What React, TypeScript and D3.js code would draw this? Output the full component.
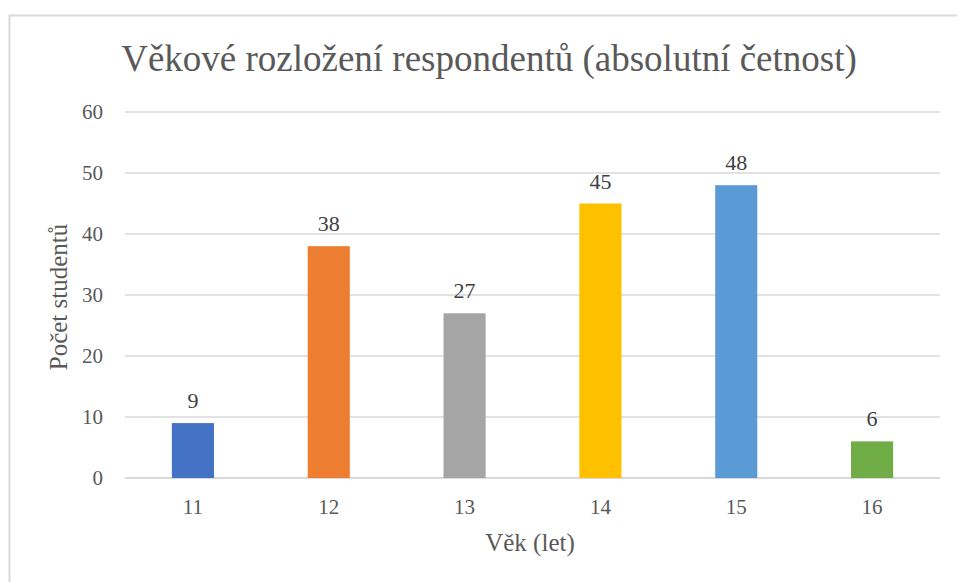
import React from "react";
import * as d3 from "d3";

const categories = ["11", "12", "13", "14", "15", "16"];
const values = [9, 38, 27, 45, 48, 6];
const colors = ["#4472C4", "#ED7D31", "#A5A5A5", "#FFC000", "#5B9BD5", "#70AD47"];
const yTicks = [0, 10, 20, 30, 40, 50, 60];
const title = "Věkové rozložení respondentů (absolutní četnost)";
const xTitle = "Věk (let)";
const yTitle = "Počet studentů";

export default function App() {
  const W = 957, H = 582;
  const left = 125, right = 940, top = 112, bottom = 478;
  const x = d3.scaleBand<string>().domain(categories).range([left, right]).paddingInner(0.69).paddingOuter(0.345);
  const y = d3.scaleLinear().domain([0, 60]).range([bottom, top]);
  const font = "Liberation Serif, Tinos, DejaVu Serif, serif";
  const textColor = "#595959";
  return (
    <svg width={W} height={H} style={{ position: "absolute", left: 0, top: 0, background: "#fff", fontFamily: font }}>
      <rect x={9.5} y={15.5} width={1200} height={1200} fill="#fff" stroke="#d9d9d9" strokeWidth={2} />
      <text x={489} y={71} textAnchor="middle" fontSize={37} fill={textColor}>{title}</text>
      {yTicks.map((t) => (
        <g key={t}>
          <line x1={left} x2={right} y1={y(t)} y2={y(t)} stroke="#d9d9d9" strokeWidth={t === 0 ? 2 : 1.5} />
          <text x={103} y={y(t)} dy="0.35em" textAnchor="end" fontSize={21} fill={textColor}>{t}</text>
        </g>
      ))}
      {categories.map((c, i) => (
        <g key={c}>
          <rect x={x(c)} y={y(values[i])} width={x.bandwidth()} height={bottom - y(values[i])} fill={colors[i]} />
          <text x={x(c)! + x.bandwidth() / 2} y={y(values[i]) - 15} textAnchor="middle" fontSize={22} fill="#404040">{values[i]}</text>
          <text x={x(c)! + x.bandwidth() / 2} y={bottom + 29} dy="0.35em" textAnchor="middle" fontSize={21} fill={textColor}>{c}</text>
        </g>
      ))}
      <text x={530} y={551} textAnchor="middle" fontSize={25} fill={textColor}>{xTitle}</text>
      <text transform={`translate(67, 297) rotate(-90)`} textAnchor="middle" fontSize={25} fill={textColor}>{yTitle}</text>
    </svg>
  );
}
